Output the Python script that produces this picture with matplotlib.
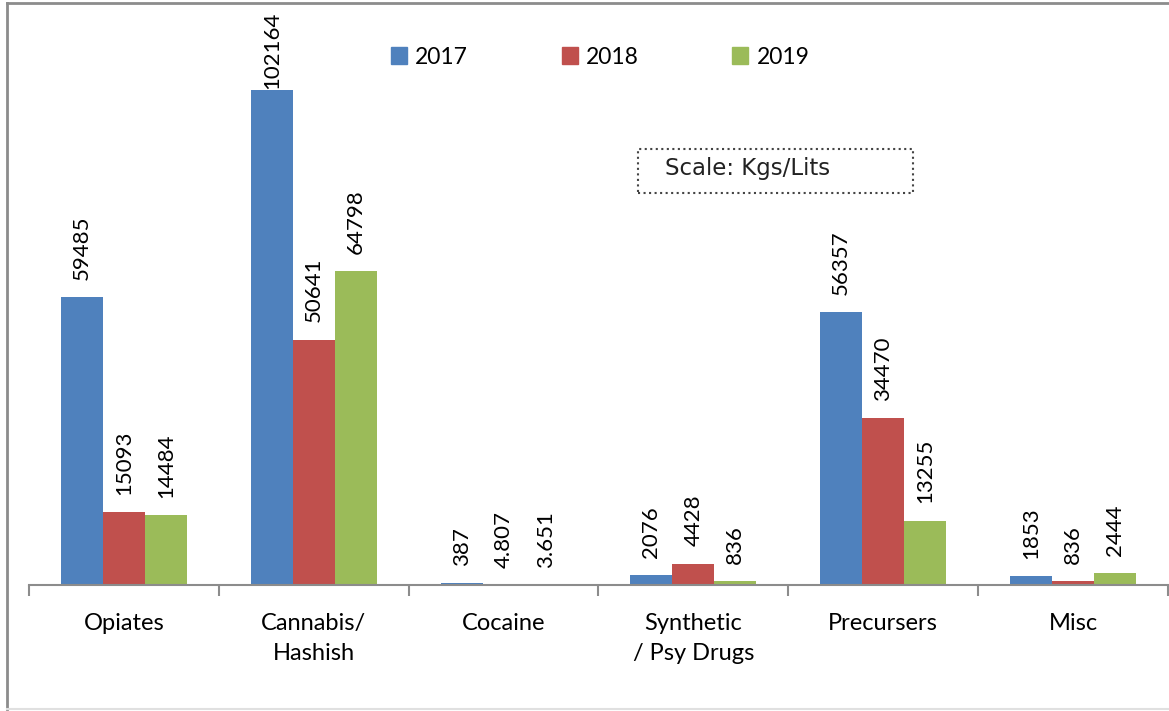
# seizures by drug category, 2017-2019
import numpy as np
import matplotlib.pyplot as plt
from matplotlib.patches import Patch, Rectangle
from matplotlib.lines import Line2D

categories = ['Opiates', 'Cannabis/\nHashish', 'Cocaine', 'Synthetic\n/ Psy Drugs', 'Precursers', 'Misc']
years = ['2017', '2018', '2019']
v2017 = [59485, 102164, 387, 2076, 56357, 1853]
v2018 = [15093, 50641, 4.807, 4428, 34470, 836]
v2019 = [14484, 64798, 3.651, 836, 13255, 2444]
colors = ['#4F81BD', '#C0504D', '#9BBB59']

W, H = 1169, 711
fig = plt.figure(figsize=(W/100, H/100), dpi=100)
ax = fig.add_axes([29/W, 1-585/H, (1168-29)/W, (585-4)/H])

x = np.arange(len(categories))
bw = 0.221
off = 12.5
series = [v2017, v2018, v2019]
for k, vals in enumerate(series):
    xs = x + (k-1)*bw
    ax.bar(xs, vals, width=bw, color=colors[k], label=years[k])
    for xi, v in zip(xs, vals):
        ax.annotate(f'{v:g}', (xi, v), xytext=(0, off), textcoords='offset points',
                    rotation=90, ha='center', va='bottom', fontsize=16,
                    family='Lato', annotation_clip=False)

ax.set_xlim(-0.5, len(categories)-0.5)
ax.set_ylim(0, 120000)
for s in ['top', 'right', 'left']:
    ax.spines[s].set_visible(False)
ax.spines['bottom'].set_color('#8c8c8c')
ax.spines['bottom'].set_linewidth(1.5)
ax.set_yticks([])
ax.set_xticks(np.arange(len(categories)+1)-0.5)
ax.set_xticklabels([])
ax.tick_params(axis='x', which='major', length=8, width=1.5, color='#8c8c8c')
ax.set_xticks(x, minor=True)
ax.set_xticklabels(categories, minor=True, fontsize=17, family='Lato', linespacing=1.55)
ax.tick_params(axis='x', which='minor', length=0, pad=20)

# keep the tallest label inside the frame
fig.canvas.draw()
r = fig.canvas.get_renderer()
for t in ax.texts:
    bb = t.get_window_extent(r)
    if bb.y1 > H - 12:
        t.set_position((0, off - (bb.y1 - (H - 12))*0.72))

handles = [Patch(color=c) for c in colors]
fig.legend(handles, years, loc='center', bbox_to_anchor=(600/W, 1-57/H), ncol=3,
           frameon=False, prop={'family': 'Lato', 'size': 16.5},
           handlelength=0.7, handleheight=0.7, handletextpad=0.35, columnspacing=4.1)

# scale note
fig.patches.append(Rectangle((638/W, 1-193/H), 275/W, 44/H, transform=fig.transFigure,
                             fill=False, edgecolor='#444444', linestyle=':', linewidth=1.5))
fig.text(665/W, 1-169/H, 'Scale: Kgs/Lits', fontsize=16.5, family='DejaVu Sans',
         va='center', ha='left', color='#222222')

# outer frame
fig.add_artist(Line2D([7/W, 7/W], [1-709/H, 1-3/H], color='#8c8c8c', lw=2))
fig.add_artist(Line2D([7/W, 1], [1-3/H, 1-3/H], color='#8c8c8c', lw=2))
fig.add_artist(Line2D([7/W, 1], [1-709/H, 1-709/H], color='#e0e0e0', lw=1.5))

fig.savefig('out.png', dpi=100)
